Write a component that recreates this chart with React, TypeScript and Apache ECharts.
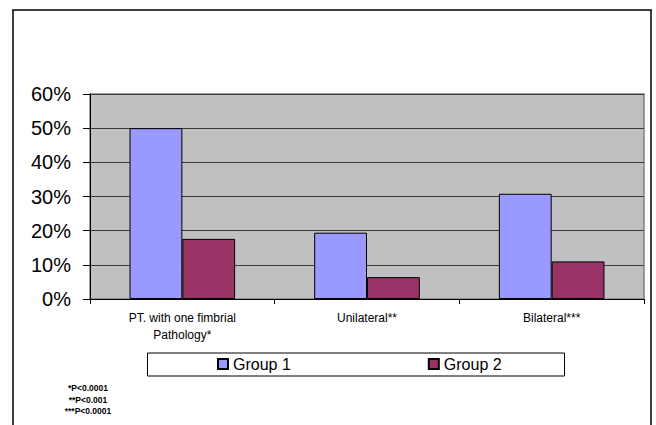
import React, { useEffect, useRef } from "react";
import * as echarts from "echarts";

const categories = ["PT. with one fimbrial\nPathology*", "Unilateral**", "Bilateral***"];
const seriesNames = ["Group 1", "Group 2"];
const group1 = [50, 19.4, 30.8];
const group2 = [17.6, 6.4, 11.0];
const footnotes = ["*P<0.0001", "**P<0.001", "***P<0.0001"];
const colors = ["#9999ff", "#993366"];

const FONT = "'Liberation Sans', Arial, sans-serif";

export default function App() {
  const ref = useRef<HTMLDivElement>(null);
  useEffect(() => {
    if (!ref.current) return;
    const chart = echarts.init(ref.current, null, { renderer: "svg" });
    chart.setOption({
      animation: false,
      backgroundColor: "#ffffff",
      textStyle: { fontFamily: FONT },
      grid: {
        left: 90,
        right: 12,
        top: 94,
        bottom: 126,
        show: true,
        backgroundColor: "#c0c0c0",
        borderColor: "#808080",
        borderWidth: 1.5,
      },
      legend: {
        left: 217,
        top: 356,
        padding: 0,
        itemWidth: 10,
        itemHeight: 10,
        itemGap: 137,
        icon: "rect",
        textStyle: { fontSize: 16, color: "#000", fontFamily: FONT },
        data: seriesNames,
      },
      xAxis: {
        type: "category",
        data: categories,
        axisLine: { show: true, lineStyle: { color: "#000", width: 1 } },
        axisTick: { show: true, length: 5, lineStyle: { color: "#000" } },
        axisLabel: { fontSize: 12, lineHeight: 17, color: "#000", margin: 10, fontFamily: FONT, interval: 0 },
        splitLine: { show: false },
      },
      yAxis: {
        type: "value",
        min: 0,
        max: 60,
        interval: 10,
        axisLine: { show: true, lineStyle: { color: "#000", width: 1 } },
        axisTick: { show: true, length: 7, lineStyle: { color: "#000" } },
        axisLabel: { formatter: "{value}%", fontSize: 20, color: "#000", margin: 19, fontFamily: FONT },
        splitLine: { show: true, lineStyle: { color: "#3a3a3a", width: 1.2 } },
      },
      series: [
        {
          name: seriesNames[0],
          type: "bar",
          data: group1,
          barGap: "0%",
          barCategoryGap: "42.8%",
          itemStyle: { color: colors[0], borderColor: "#000", borderWidth: 1 },
        },
        {
          name: seriesNames[1],
          type: "bar",
          data: group2,
          barGap: "0%",
          barCategoryGap: "42.8%",
          itemStyle: { color: colors[1], borderColor: "#000", borderWidth: 1 },
        },
      ],
      graphic: [
        {
          type: "rect",
          shape: { x: 13, y: 10, width: 638, height: 440 },
          style: { fill: "none", stroke: "#000", lineWidth: 1.5 },
          z: 100,
          silent: true,
        },
        {
          type: "rect",
          shape: { x: 147.5, y: 353, width: 417, height: 23 },
          style: { fill: "none", stroke: "#000", lineWidth: 1 },
          z: 100,
          silent: true,
        },
        ...footnotes.map((t, i) => ({
          type: "text",
          x: 88,
          y: 388 + i * 11.5,
          style: {
            text: t,
            fill: "#000",
            font: `bold 8.5px ${FONT}`,
            textAlign: "center",
            textVerticalAlign: "middle",
          },
          z: 100,
        })),
      ],
    });
    return () => chart.dispose();
  }, []);
  return (
    <div
      ref={ref}
      style={{ position: "absolute", left: 0, top: 0, width: 656, height: 425 }}
    />
  );
}
